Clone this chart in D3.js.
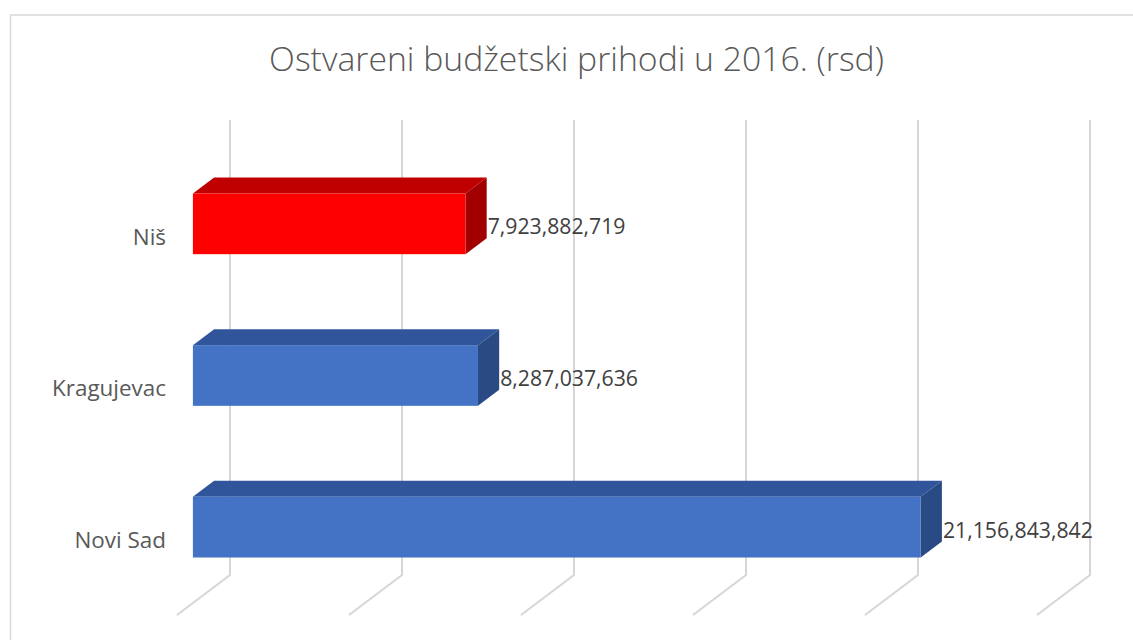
<!DOCTYPE html>
<html>
<head>
<meta charset="utf-8">
<script src="https://cdn.jsdelivr.net/npm/d3@7"></script>
<style>
	body { margin: 0; background: #fff; }
	text { font-family: "Open Sans", "Noto Sans", sans-serif; }
</style>
</head>
<body>
<div id="chart"></div>
<script>
	///////////////////////////////////////////////////////////////////////////
	//////////////////////////////// The data /////////////////////////////////
	///////////////////////////////////////////////////////////////////////////

	var cities = ["Niš", "Kragujevac", "Novi Sad"];
	var revenues = [7923882719, 8287037636, 21156843842];
	var barColors = ["red", "blue", "blue"];
	var xTicks = [0, 5e9, 10e9, 15e9, 20e9, 25e9];
	var title = "Ostvareni budžetski prihodi u 2016. (rsd)";

	///////////////////////////////////////////////////////////////////////////
	//////////////////////////////// Set up svg ///////////////////////////////
	///////////////////////////////////////////////////////////////////////////

	var width = 1133, height = 640;

	var svg = d3.select("#chart").append("svg")
		.attr("width", width)
		.attr("height", height);

	//Chart area border (runs off the picture right and bottom)
	svg.append("rect")
		.attr("x", 10.5).attr("y", 15)
		.attr("width", 1200).attr("height", 700)
		.style("fill", "none")
		.style("stroke", "#d9d9d9")
		.style("stroke-width", 1.5);

	//Back wall sits at depth 0, the front of the floor at depth 1
	var backLeft = 230,
		wallTop = 120,
		wallBottom = 575,
		depthX = -53,
		depthY = 40;

	function off(d) { return [depthX * d, depthY * d]; }

	var x = d3.scaleLinear()
		.domain([0, 25e9])
		.range([backLeft, backLeft + 860]);

	var y = d3.scaleBand()
		.domain(cities)
		.range([wallTop, wallBottom])
		.paddingInner(0.6)
		.paddingOuter(0.3);

	var fmt = d3.format(",");

	var palette = {
		red:  { front: "#ff0000", top: "#c00000", side: "#a20000" },
		blue: { front: "#4472c4", top: "#30559a", side: "#2a4a84" }
	};

	//Scale a text so it is as wide as in the picture
	function fitWidth(sel, size, target) {
		sel.style("font-size", size + "px");
		var w = sel.node().getComputedTextLength();
		var s = size * target / w;
		sel.style("font-size", s + "px");
		return s;
	}

	///////////////////////////////////////////////////////////////////////////
	////////////////////////////////// Title //////////////////////////////////
	///////////////////////////////////////////////////////////////////////////

	var titleText = svg.append("text")
		.attr("x", 576.5)
		.attr("y", 71)
		.attr("text-anchor", "middle")
		.style("fill", "#595959")
		.style("font-weight", 300)
		.text(title);
	fitWidth(titleText, 30, 615);

	///////////////////////////////////////////////////////////////////////////
	//////////////////////////////// Gridlines ////////////////////////////////
	///////////////////////////////////////////////////////////////////////////

	var grid = svg.append("g").attr("class", "grid");

	grid.selectAll(".wallLine")
		.data(xTicks)
		.enter().append("path")
		.attr("d", function(t) {
			var o = off(1);
			return "M" + x(t) + "," + wallTop + "V" + wallBottom +
				"L" + (x(t) + o[0]) + "," + (wallBottom + o[1]);
		})
		.style("fill", "none")
		.style("stroke", "#d6d6d6")
		.style("stroke-width", 2);

	///////////////////////////////////////////////////////////////////////////
	////////////////////////////////// Bars ///////////////////////////////////
	///////////////////////////////////////////////////////////////////////////

	var frontD = 0.7, backD = 0.3;
	var data = cities.map(function(c, i) {
		return { city: c, value: revenues[i], color: palette[barColors[i]] };
	});

	var bars = svg.append("g").attr("class", "bars")
		.selectAll(".bar")
		.data(data)
		.enter().append("g")
		.attr("class", "bar");

	function pt(p) { return p[0] + "," + p[1]; }

	bars.each(function(d) {
		var g = d3.select(this);
		var f = off(frontD), b = off(backD);
		var x0 = x(0), x1 = x(d.value);
		var y0 = y(d.city), y1 = y(d.city) + y.bandwidth();

		//front face corners
		var fl = x0 + f[0], fr = x1 + f[0], ft = y0 + f[1], fb = y1 + f[1];
		//back face corners
		var bl = x0 + b[0], br = x1 + b[0], bt = y0 + b[1], bb = y1 + b[1];

		g.append("polygon")
			.attr("points", [[fl, ft], [bl, bt], [br, bt], [fr, ft]].map(pt).join(" "))
			.style("fill", d.color.top);

		g.append("polygon")
			.attr("points", [[fr, ft], [br, bt], [br, bb], [fr, fb]].map(pt).join(" "))
			.style("fill", d.color.side);

		g.append("rect")
			.attr("x", fl).attr("y", ft)
			.attr("width", fr - fl).attr("height", fb - ft)
			.style("fill", d.color.front);

		//value label, just right of the back edge
		d.labelX = br + 1;
		d.labelY = (ft + fb) / 2 + 3;
	});

	///////////////////////////////////////////////////////////////////////////
	///////////////////////////////// Labels //////////////////////////////////
	///////////////////////////////////////////////////////////////////////////

	var valueLabels = svg.append("g").selectAll(".value")
		.data(data)
		.enter().append("text")
		.attr("class", "value")
		.attr("x", function(d) { return d.labelX; })
		.attr("y", function(d) { return d.labelY; })
		.attr("dy", "0.35em")
		.style("fill", "#404040")
		.text(function(d) { return fmt(d.value); });

	//size from the widest label
	var labelSize = fitWidth(d3.select(valueLabels.nodes()[2]), 20, 150);
	valueLabels.style("font-size", labelSize + "px");

	var catOff = off(1);
	var catLabels = svg.append("g").selectAll(".cat")
		.data(cities)
		.enter().append("text")
		.attr("class", "cat")
		.attr("x", x(0) + catOff[0] - 11)
		.attr("y", function(c) { return y(c) + y.bandwidth() / 2 + catOff[1] + 1; })
		.attr("dy", "0.35em")
		.attr("text-anchor", "end")
		.style("fill", "#595959")
		.text(function(c) { return c; });

	var catSize = fitWidth(d3.select(catLabels.nodes()[1]), 20, 114);
	catLabels.style("font-size", catSize + "px");
</script>
</body>
</html>
